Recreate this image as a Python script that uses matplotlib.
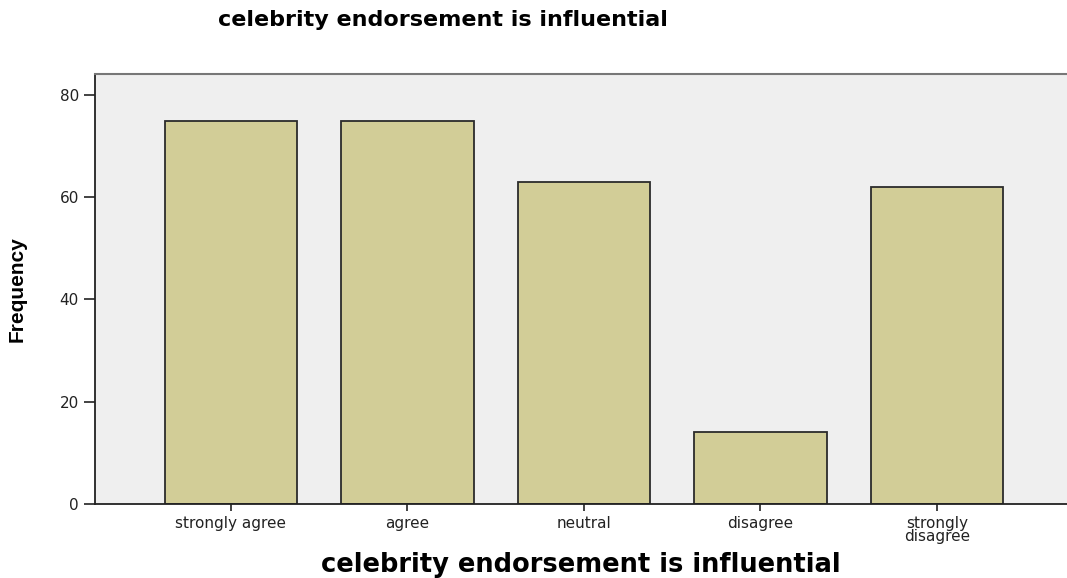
import numpy as np
import matplotlib.pyplot as plt

# responses and counts
categories = ['strongly agree', 'agree', 'neutral', 'disagree', 'strongly\ndisagree']
freq = [75, 75, 63, 14, 62]
y_ticks = [0, 20, 40, 60, 80]

fig = plt.figure(figsize=(10.67, 5.78), dpi=100)
ax = fig.add_axes([0.089, 0.128, 0.911, 0.744])
ax.set_facecolor('#efefef')

x = np.arange(len(categories))
ax.bar(x, freq, width=0.75, color='#d2cd97', edgecolor='#2b2b2b', linewidth=1.3, zorder=2)

ax.set_xlim(-0.77, 4.737)
ax.set_ylim(0, 84.1)
ax.set_yticks(y_ticks)
ax.set_xticks(x)
ax.set_xticklabels(categories, fontsize=11, family='DejaVu Sans', linespacing=0.85)
ax.tick_params(axis='y', length=8, width=1.2, labelsize=11, colors='#222222')
ax.tick_params(axis='x', length=5, width=1.2, colors='#222222')

ax.spines['right'].set_visible(False)
ax.spines['top'].set_color('#777777')
ax.spines['top'].set_linewidth(1.5)
for s in ['left', 'bottom']:
    ax.spines[s].set_color('#222222')
    ax.spines[s].set_linewidth(1.3)

fig.text(0.415, 0.965, 'celebrity endorsement is influential', ha='center', va='center',
         fontsize=16, fontweight='bold', family='DejaVu Sans')
fig.text(0.544, 0.022, 'celebrity endorsement is influential', ha='center', va='center',
         fontsize=18.5, fontweight='bold', family='DejaVu Sans')
fig.text(0.016, 0.50, 'Frequency', rotation=90, ha='center', va='center',
         fontsize=15, fontweight='bold', family=['Liberation Sans Narrow', 'Liberation Sans'])

fig.savefig('out.png', dpi=100)
